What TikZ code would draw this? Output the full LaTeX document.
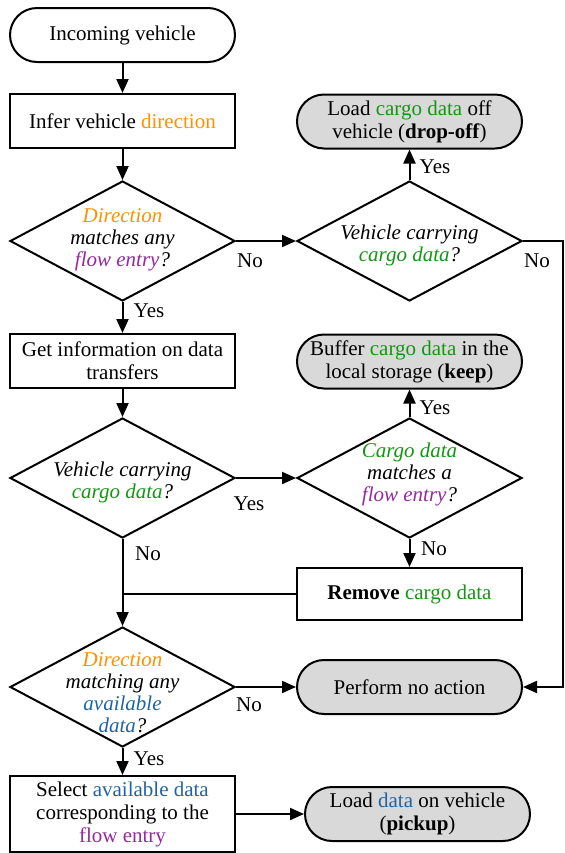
\documentclass[tikz,border=0pt]{standalone}
\usepackage{fontspec}
\setmainfont{Liberation Serif}
\usetikzlibrary{shapes.geometric,arrows.meta}
\definecolor{dirc}{RGB}{255,145,0}
\definecolor{cargoc}{RGB}{20,150,20}
\definecolor{flowc}{RGB}{150,40,160}
\definecolor{availc}{RGB}{30,100,165}
\definecolor{fillg}{RGB}{217,217,217}
\begin{document}
\begin{tikzpicture}[x=0.5pt,y=-0.5pt,line width=1pt,
  >={Triangle[length=7pt,width=6pt]},
  every node/.style={font=\fontsize{10.5}{11.5}\selectfont},
  term/.style={draw,rectangle,rounded corners=13.5pt,minimum width=112.5pt,minimum height=27pt,align=center,inner sep=1pt},
  termg/.style={term,fill=fillg},
  proc/.style={draw,rectangle,minimum width=112.5pt,minimum height=27pt,align=center,inner sep=1pt},
  dec/.style={draw,diamond,minimum width=112.5pt,minimum height=60pt,inner sep=0pt},
  dtext/.style={align=center,font=\fontsize{10.5}{11}\selectfont\itshape,inner sep=0pt},
  lab/.style={inner sep=0pt}]
\useasboundingbox (0,0) rectangle (565,853);
% nodes
\node[term] (start) at (122.5,35) {Incoming vehicle};
\node[proc] (infer) at (122.5,121) {Infer vehicle \textcolor{dirc}{direction}};
\node[dec] (d1) at (122.5,241) {};
\node[dtext] (d1t) at (122.5,240) {\textcolor{dirc}{Direction}\\matches any\\\textcolor{flowc}{flow entry}?};
\node[termg] (drop) at (409.5,121.5) {Load \textcolor{cargoc}{cargo data} off\\vehicle (\textbf{drop-off})};
\node[dec] (d2) at (409.5,241) {};
\node[dtext] (d2t) at (409.5,245) {Vehicle carrying\\\textcolor{cargoc}{cargo data}?};
\node[proc] (info) at (122.5,361) {Get information on data\\transfers};
\node[dec] (d3) at (122.5,478) {};
\node[dtext] (d3t) at (122.5,482) {Vehicle carrying\\\textcolor{cargoc}{cargo data}?};
\node[termg] (buffer) at (409.5,361.5) {Buffer \textcolor{cargoc}{cargo data} in the\\local storage (\textbf{keep})};
\node[dec] (d4) at (409.5,478) {};
\node[dtext] (d4t) at (409.5,474) {\textcolor{cargoc}{Cargo data}\\matches a\\\textcolor{flowc}{flow entry}?};
\node[proc,minimum height=26pt] (remove) at (409.5,594) {\textbf{Remove} \textcolor{cargoc}{cargo data}};
\node[dec] (d5) at (122.5,687) {};
\node[dtext] (d5t) at (122.5,693) {\textcolor{dirc}{Direction}\\matching any\\\textcolor{availc}{available}\\\textcolor{availc}{data}?};
\node[termg] (noact) at (409.5,687) {Perform no action};
\node[proc,minimum height=38pt] (select) at (122.5,814) {Select \textcolor{availc}{available data}\\corresponding to the\\\textcolor{flowc}{flow entry}};
\node[termg] (pickup) at (417.5,814) {Load \textcolor{availc}{data} on vehicle\\(\textbf{pickup})};
% labels
\node[lab] (l1) at (250,261) {No};
\node[lab] (l2) at (149,311) {Yes};
\node[lab] (l3) at (435,167) {Yes};
\node[lab] (l4) at (537,261) {No};
\node[lab] (l5) at (249,504) {Yes};
\node[lab] (l6) at (148,554) {No};
\node[lab] (l7) at (435,408) {Yes};
\node[lab] (l8) at (434,549) {No};
\node[lab] (l9) at (249,705) {No};
\node[lab] (l10) at (149,759) {Yes};
% helper coordinates
\coordinate (rc) at (563,241);
\coordinate (join) at (122.5,594);
% connectors
\draw[->] (start) -- (infer);
\draw[->] (infer) -- (d1);
\draw[->] (d1.east) -- (d2.west);
\draw[->] (d2.north) -- (drop.south);
\draw[->] (d2.east) -- (rc) |- (noact.east);
\draw[->] (d1.south) -- (info.north);
\draw[->] (info) -- (d3.north);
\draw[->] (d3.east) -- (d4.west);
\draw[->] (d4.north) -- (buffer.south);
\draw[->] (d4.south) -- (remove.north);
\draw[->] (d3.south) -- (d5.north);
\draw (remove.west) -- (join);
\draw[->] (d5.east) -- (noact.west);
\draw[->] (d5.south) -- (select.north);
\draw[->] (select.east) -- (pickup.west);
\end{tikzpicture}
\end{document}
